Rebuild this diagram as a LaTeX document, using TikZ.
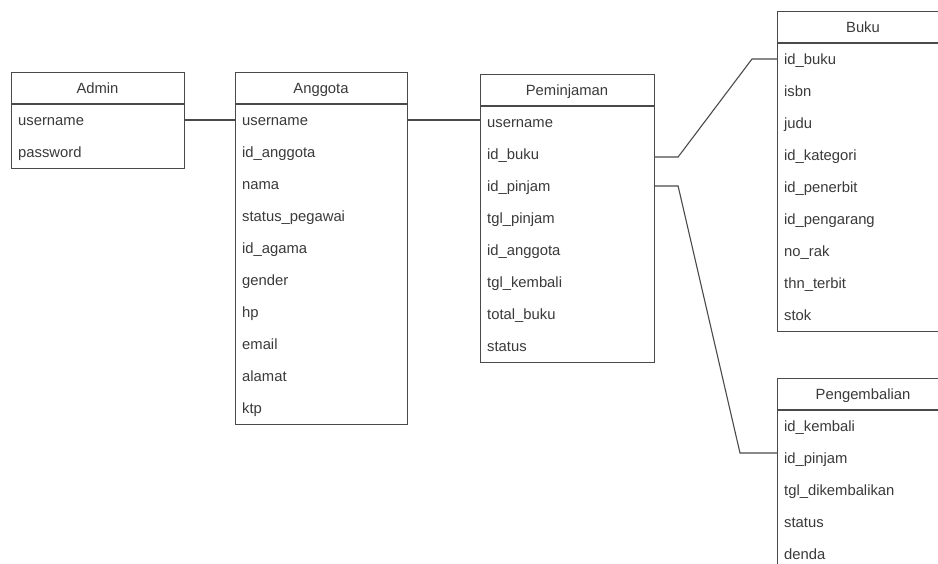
\documentclass[tikz,border=0pt]{standalone}
\usepackage{fontspec}
\setmainfont{Liberation Sans}
\usetikzlibrary{calc}
\definecolor{ln}{HTML}{4A4A4A}
\definecolor{tx}{HTML}{3A3A3A}
\tikzset{
  tbl/.style={draw=ln, line width=1.1pt, fill=white, rectangle, inner sep=0pt, anchor=north west},
  hdr/.style={text=tx, font=\fontsize{14.8}{17}\selectfont, inner sep=0pt, text height=14pt, text depth=3pt},
  fld/.style={text=tx, font=\fontsize{14.8}{17}\selectfont, inner sep=0pt, anchor=west, text height=14pt, text depth=3pt},
  rel/.style={draw=ln, line width=1.1pt},
  sep/.style={draw=ln, line width=1.1pt}
}
% #1 name, #2 x, #3 top, #4 width, #5 height, #6 title, #7 rows
\newcommand{\ertable}[7]{%
  \node[tbl, minimum width=#4pt, minimum height=#5pt] (#1) at (#2,#3) {};
  \draw[sep] (#2,#3+32) -- (#2+#4,#3+32);
  \node[hdr] (#1-t) at ({#2+#4/2},{#3+16}) {#6};
  \foreach \fname [count=\i] in {#7} {
    \node[fld] (#1-\i) at ({#2+7},{#3+16+32*\i}) {\fname};
  }
}
\begin{document}
\begin{tikzpicture}[x=1pt,y=-1pt]
\clip (0,0) rectangle (938,563);
\fill[white] (0,0) rectangle (938,563);

\ertable{adm}{11}{72}{173}{96}{Admin}{username,password}
\ertable{ang}{235}{72}{172}{352}{Anggota}{username,id\_anggota,nama,status\_pegawai,id\_agama,gender,hp,email,alamat,ktp}
\ertable{pem}{480}{74}{174}{288}{Peminjaman}{username,id\_buku,id\_pinjam,tgl\_pinjam,id\_anggota,tgl\_kembali,total\_buku,status}
\ertable{buk}{777}{11}{172}{320}{Buku}{id\_buku,isbn,judu,id\_kategori,id\_penerbit,id\_pengarang,no\_rak,thn\_terbit,stok}
\ertable{pkb}{777}{378}{172}{192}{Pengembalian}{id\_kembali,id\_pinjam,tgl\_dikembalikan,status,denda}

\draw[rel] (adm-1 -| adm.east) -- (ang-1 -| ang.west);
\draw[rel] (ang-1 -| ang.east) -- (ang-1 -| pem.west);
\draw[rel] ($(pem-2 -| pem.east)+(0,3)$) -- ++(23,0)
  -- ($(buk-1 -| buk.west)+(-25,0)$) -- (buk-1 -| buk.west);
\draw[rel] (pem-3 -| pem.east) -- ++(23,0)
  -- ($(pkb-2 -| pkb.west)+(-37,-5)$) -- ($(pkb-2 -| pkb.west)+(0,-5)$);
\end{tikzpicture}
\end{document}
